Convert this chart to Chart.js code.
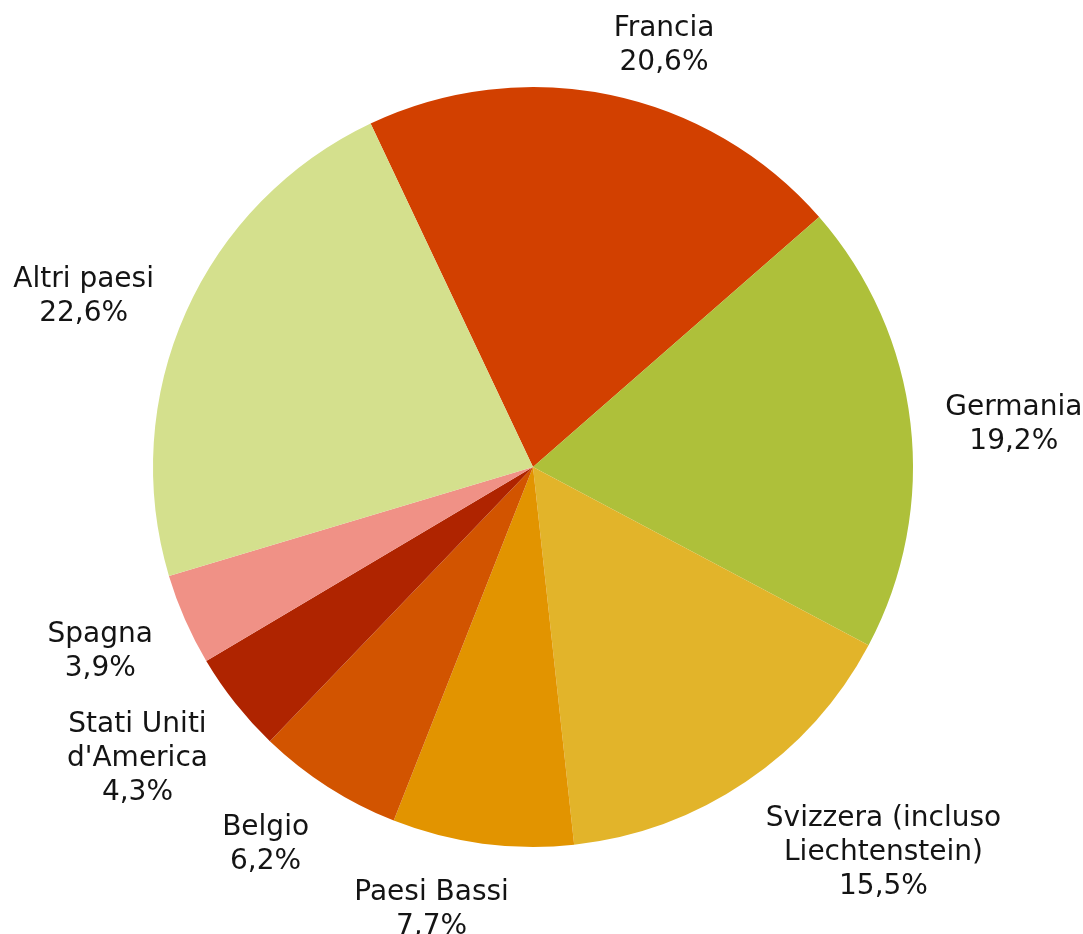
<!DOCTYPE html>
<html>
<head>
<meta charset="utf-8">
<script src="https://cdn.jsdelivr.net/npm/chart.js@4.4.1/dist/chart.umd.min.js"></script>
<style>
  html, body { margin: 0; padding: 0; background: #fff; }
  #wrap { width: 1083px; height: 934px; position: relative; }
</style>
</head>
<body>
<div id="wrap"><canvas id="pieChart"></canvas></div>
<script>
// paesi in senso orario, partendo da Francia
const paesi = ['Francia', 'Germania', 'Svizzera (incluso\nLiechtenstein)', 'Paesi Bassi', 'Belgio', "Stati Uniti\nd'America", 'Spagna', 'Altri paesi'];
const quote = [20.6, 19.2, 15.5, 7.7, 6.2, 4.3, 3.9, 22.6];
const colori = ['#D24000', '#AEC03A', '#E2B42A', '#E29400', '#D25400', '#AF2400', '#F09186', '#D4E08D'];

// etichette esterne: nome + percentuale
const etichettePlugin = {
    id: 'etichette',
    afterDatasetsDraw(chart) {
        const ctx = chart.ctx;
        const meta = chart.getDatasetMeta(0);
        const lineH = 34;
        ctx.save();
        ctx.font = '28px "DejaVu Sans", Verdana, sans-serif';
        ctx.fillStyle = '#141414';
        ctx.textAlign = 'center';
        ctx.textBaseline = 'middle';
        meta.data.forEach((arc, i) => {
            const righe = paesi[i].split('\n');
            righe.push(quote[i].toFixed(1).replace('.', ',') + '%');
            const w = Math.max(...righe.map(t => ctx.measureText(t).width));
            const h = righe.length * lineH;
            const mid = (arc.startAngle + arc.endAngle) / 2;
            const px = arc.x + Math.cos(mid) * (arc.outerRadius + 35);
            const py = arc.y + Math.sin(mid) * (arc.outerRadius + 25);
            const fx = Math.max(-1, Math.min(1, Math.cos(mid) * 4.5));
            const fy = Math.sin(mid);
            const cx = px + fx * w / 2;
            const cy = py + fy * h / 2 + 8;
            righe.forEach((t, j) => {
                ctx.fillText(t, cx, cy - h / 2 + lineH / 2 + j * lineH);
            });
        });
        ctx.restore();
    }
};

const pieCtx = document.getElementById('pieChart').getContext('2d');
const pieChart = new Chart(pieCtx, {
    type: 'pie',
    data: {
        labels: paesi,
        datasets: [{
            data: quote,
            backgroundColor: colori,
            borderWidth: 0
        }]
    },
    options: {
        responsive: true,
        maintainAspectRatio: false,
        animation: false,
        rotation: -25.3,
        layout: {
            padding: { left: 153, right: 170, top: 87, bottom: 87 }
        },
        plugins: {
            legend: { display: false },
            tooltip: { enabled: false }
        }
    },
    plugins: [etichettePlugin]
});
</script>
</body>
</html>
